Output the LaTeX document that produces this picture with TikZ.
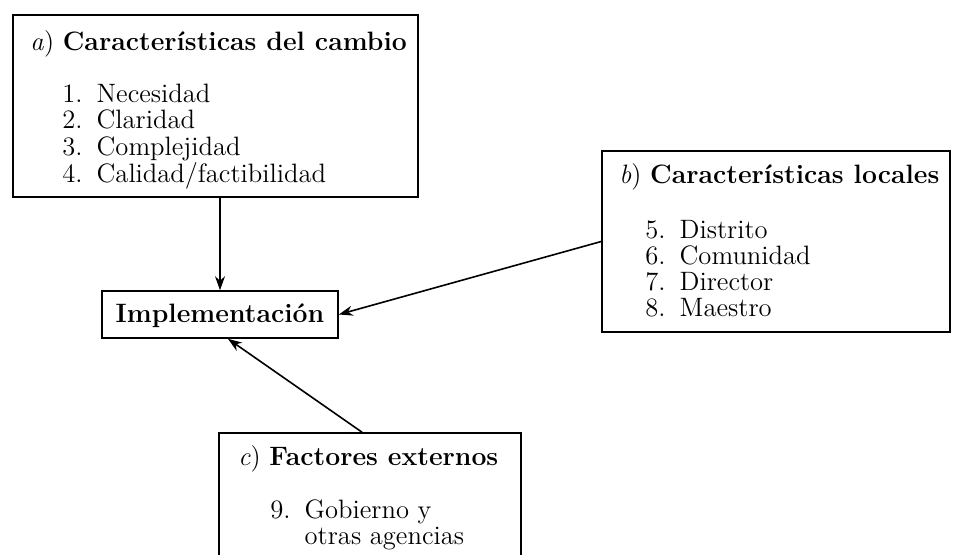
\documentclass[tikz,border=0pt]{standalone}
\usepackage{tikz}
\usetikzlibrary{arrows.meta, fit}

\begin{document}
\begin{tikzpicture}[x=0.5pt, y=-0.5pt,
		caja/.style={draw, thick, inner sep=0pt},
		titulo/.style={anchor=base west, inner sep=0pt, font=\fontsize{13.3}{13}\selectfont},
		lista/.style={anchor=base west, inner sep=0pt, font=\fontsize{13.3}{13}\selectfont},
		flecha/.style={thick, -{Stealth[length=7pt, width=5pt]}}]
			\clip (0,0) rectangle (955,554);

			\node[caja, fit={(13,15) (418,197)}] (cambio) {};
			\node[titulo] (ta) at (30,50) {\textit{a}) \textbf{Características del cambio}};
			\node[lista] (la) at (62,102) {\begin{tabular}[t]{@{}l@{\hspace{7pt}}l@{}}
				1. & Necesidad\\ 2. & Claridad\\ 3. & Complejidad\\ 4. & Calidad/factibilidad
			\end{tabular}};

			\node[caja, fit={(602,151) (950,332)}] (locales) {};
			\node[titulo] (tb) at (619,183) {\textit{b}) \textbf{Características locales}};
			\node[lista] (lb) at (645,238) {\begin{tabular}[t]{@{}l@{\hspace{7pt}}l@{}}
				5. & Distrito\\ 6. & Comunidad\\ 7. & Director\\ 8. & Maestro
			\end{tabular}};

			\node[caja, fit={(219,433) (521,570)}] (externos) {};
			\node[titulo] (tc) at (238,465) {\textit{c}) \textbf{Factores externos}};
			\node[lista] (lc) at (270,518) {\begin{tabular}[t]{@{}l@{\hspace{7pt}}l@{}}
				9. & Gobierno y\\ & otras agencias
			\end{tabular}};

			\node[caja, fit={(102,291) (338,338)}] (impl) {};
			\node[titulo, anchor=base] (ti) at (220,322) {\textbf{Implementación}};

			\draw[flecha] (impl.north |- cambio.south) -- (impl.north);
			\draw[flecha] (locales.west) -- (impl.east);
			\draw[flecha] ([xshift=-4pt]externos.north) -- ([xshift=4pt]impl.south);
		\end{tikzpicture}
\end{document}
